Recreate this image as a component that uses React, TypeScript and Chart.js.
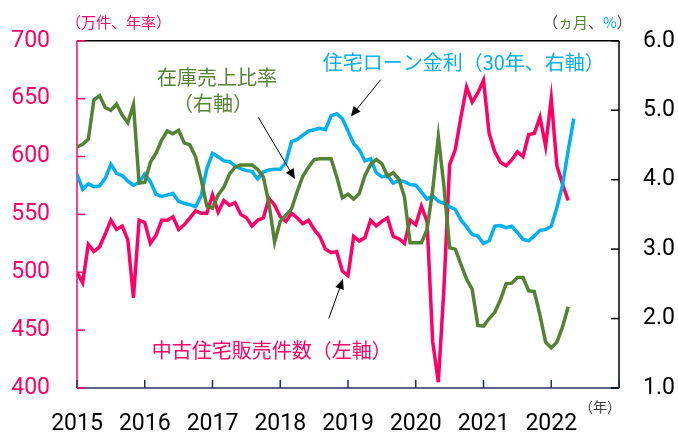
import React, { useEffect, useRef } from 'react';
import { Chart, registerables } from 'chart.js';

Chart.register(...registerables);

const START_YEAR = 2015;
const yearTicks = [0, 12, 24, 36, 48, 60, 72, 84, 96];
const leftTicks = [400, 450, 500, 550, 600, 650, 700];
const rightTicks = [1, 2, 3, 4, 5, 6];

// 中古住宅販売件数 (万件、年率) – left axis, monthly from Jan 2015
const salesValues = [
  500, 491, 524, 518, 522, 533, 545, 537, 540, 528, 478, 545,
  543, 525, 532, 545, 545, 548, 537, 541, 547, 553, 551, 551,
  567, 552, 562, 558, 560, 550, 547, 540, 545, 547, 564, 558,
  548, 544, 551, 547, 542, 545, 537, 531, 520, 517, 518, 501,
  497, 531, 527, 530, 545, 540, 544, 547, 531, 529, 525, 545,
  541, 557, 544, 440, 405, 487, 593, 606, 634, 660, 647, 655,
  666, 620, 604, 595, 592, 597, 604, 600, 619, 620, 634, 609,
  650, 592, 576, 562,
];

// 住宅ローン金利 (30年, %) – right axis
const rateValues = [
  4.08, 3.86, 3.94, 3.90, 3.91, 4.02, 4.22, 4.09, 4.06, 3.98, 3.92, 3.96,
  4.08, 3.97, 3.79, 3.76, 3.78, 3.80, 3.69, 3.66, 3.64, 3.61, 3.77, 4.16,
  4.38, 4.33, 4.27, 4.26, 4.20, 4.16, 4.13, 4.12, 4.01, 4.11, 4.14, 4.15,
  4.15, 4.25, 4.55, 4.58, 4.64, 4.70, 4.72, 4.74, 4.72, 4.92, 4.95, 4.88,
  4.70, 4.52, 4.43, 4.27, 4.30, 4.10, 4.04, 4.06, 3.95, 3.99, 3.97, 3.93,
  3.92, 3.82, 3.72, 3.77, 3.69, 3.66, 3.61, 3.57, 3.42, 3.32, 3.21, 3.19,
  3.08, 3.12, 3.33, 3.34, 3.31, 3.33, 3.24, 3.14, 3.12, 3.19, 3.27, 3.28,
  3.33, 3.60, 3.92, 4.42, 4.88,
];

// 在庫売上比率 (ヵ月) – right axis
const inventoryValues = [
  4.47, 4.51, 4.58, 5.15, 5.21, 5.04, 5.00, 5.09, 4.93, 4.82, 5.08, 3.95,
  3.96, 4.25, 4.38, 4.57, 4.70, 4.66, 4.71, 4.53, 4.50, 4.33, 4.00, 3.62,
  3.59, 3.78, 3.89, 4.08, 4.18, 4.21, 4.21, 4.21, 4.15, 4.04, 3.66, 3.10,
  3.40, 3.49, 3.58, 3.83, 4.05, 4.18, 4.29, 4.30, 4.30, 4.30, 4.04, 3.74,
  3.79, 3.72, 3.80, 4.06, 4.22, 4.29, 4.23, 4.05, 4.10, 4.01, 3.75, 3.09,
  3.09, 3.09, 3.28, 3.85, 4.62, 3.90, 3.02, 3.00, 2.78, 2.57, 2.42, 1.90,
  1.89, 2.00, 2.09, 2.27, 2.50, 2.51, 2.59, 2.59, 2.40, 2.39, 2.05, 1.66,
  1.58, 1.66, 1.88, 2.17,
];

const PINK = '#FF0066';
const BLUE = '#00B0F0';
const GREEN = '#548235';
const NAVY = '#1F2F5F';
const NUM_FONT = 'Roboto, "Liberation Sans", sans-serif';
const JP_FONT = '"Noto Sans CJK JP", "Noto Sans", sans-serif';

const toXY = (arr: number[]) => arr.map((v, i) => ({ x: i, y: v }));

const decorPlugin = {
  id: 'decor',
  beforeDatasetsDraw(chart: any) {
    const { ctx, chartArea: a, scales } = chart;
    const seg = (x1: number, y1: number, x2: number, y2: number, c: string, w = 1.5) => {
      ctx.beginPath();
      ctx.strokeStyle = c;
      ctx.lineWidth = w;
      ctx.moveTo(x1, y1);
      ctx.lineTo(x2, y2);
      ctx.stroke();
    };
    ctx.save();
    seg(a.left, a.top, a.right, a.top, '#000');
    seg(a.right, a.top, a.right, a.bottom, '#000');
    seg(a.left, a.top, a.left, a.bottom, PINK);
    seg(a.left, a.bottom, a.right, a.bottom, NAVY);
    leftTicks.forEach((v) => {
      const y = scales.y.getPixelForValue(v);
      seg(a.left, y, a.left + 8, y, PINK);
    });
    rightTicks.forEach((v) => {
      const y = scales.y1.getPixelForValue(v);
      seg(a.right - 8, y, a.right, y, '#000');
    });
    yearTicks.forEach((v) => {
      const x = scales.x.getPixelForValue(v);
      seg(x, a.bottom, x, a.bottom - 8, NAVY);
    });
    ctx.restore();
  },
  afterDraw(chart: any) {
    const { ctx, chartArea: a, scales } = chart;
    const px = (m: number) => scales.x.getPixelForValue(m);
    const py = (v: number) => scales.y1.getPixelForValue(v);
    ctx.save();
    const text = (t: string, x: number, y: number, c: string, size: number, align: CanvasTextAlign = 'center') => {
      ctx.font = `${size}px ${JP_FONT}`;
      ctx.fillStyle = c;
      ctx.textAlign = align;
      ctx.textBaseline = 'middle';
      ctx.fillText(t, x, y);
    };
    // series labels
    text('住宅ローン金利（30年、右軸）', px(68.5), py(5.69), BLUE, 20);
    text('在庫売上比率', px(24.8), py(5.47), GREEN, 20);
    text('（右軸）', px(24.1), py(5.10), GREEN, 20);
    text('中古住宅販売件数（左軸）', px(34.5), py(1.54), PINK, 20);

    // unit labels
    text('（万件、年率）', a.left - 11, a.top - 19, PINK, 15, 'left');
    const parts: [string, string][] = [
      ['（', '#404040'], ['ヵ月', GREEN], ['、', '#404040'], ['%', BLUE], ['）', '#404040'],
    ];
    let x = a.right - 76;
    ctx.font = `15px ${JP_FONT}`;
    parts.forEach(([t, c]) => {
      text(t, x, a.top - 19, c, 15, 'left');
      x += ctx.measureText(t).width;
    });
    text('（年）', a.right - 19, a.bottom + 19, '#404040', 14);

    // arrows
    const arrow = (m1: number, v1: number, m2: number, v2: number) => {
      const x1 = px(m1), y1 = py(v1), x2 = px(m2), y2 = py(v2);
      const ang = Math.atan2(y2 - y1, x2 - x1);
      const L = 10, W = 4.5;
      ctx.strokeStyle = '#000';
      ctx.fillStyle = '#000';
      ctx.lineWidth = 1;
      ctx.beginPath();
      ctx.moveTo(x1, y1);
      ctx.lineTo(x2 - Math.cos(ang) * L * 0.8, y2 - Math.sin(ang) * L * 0.8);
      ctx.stroke();
      ctx.beginPath();
      ctx.moveTo(x2, y2);
      ctx.lineTo(x2 - Math.cos(ang) * L - Math.sin(ang) * W, y2 - Math.sin(ang) * L + Math.cos(ang) * W);
      ctx.lineTo(x2 - Math.cos(ang) * L + Math.sin(ang) * W, y2 - Math.sin(ang) * L - Math.cos(ang) * W);
      ctx.closePath();
      ctx.fill();
    };
    arrow(53.8, 5.44, 48.5, 4.91);
    arrow(32.1, 4.9, 38.6, 4.01);
    arrow(44.6, 2.0, 47.1, 2.57);
    ctx.restore();
  },
};

export default function App() {
  const ref = useRef<HTMLCanvasElement | null>(null);
  useEffect(() => {
    document.body.style.margin = '0';
    if (!ref.current) return;
    const chart = new Chart(ref.current, {
      type: 'line',
      data: {
        datasets: [
          {
            label: '在庫売上比率',
            data: toXY(inventoryValues),
            yAxisID: 'y1',
            borderColor: GREEN,
            borderWidth: 3.5,
            pointRadius: 0,
            tension: 0,
            order: 0,
          },
          {
            label: '住宅ローン金利',
            data: toXY(rateValues),
            yAxisID: 'y1',
            borderColor: BLUE,
            borderWidth: 3.5,
            pointRadius: 0,
            tension: 0,
            order: 1,
          },
          {
            label: '中古住宅販売件数',
            data: toXY(salesValues),
            yAxisID: 'y',
            borderColor: PINK,
            borderWidth: 3.5,
            pointRadius: 0,
            tension: 0,
            order: 2,
          },
        ],
      },
      options: {
        responsive: false,
        animation: false,
        layout: { padding: { top: 37, left: 0, right: 0, bottom: 0 } },
        plugins: { legend: { display: false }, tooltip: { enabled: false } },
        scales: {
          x: {
            type: 'linear',
            min: 0,
            max: 96,
            grid: { display: false, drawTicks: false },
            border: { display: false },
            afterBuildTicks: (s: any) => {
              s.ticks = yearTicks.map((v) => ({ value: v }));
            },
            ticks: {
              autoSkip: false,
              maxRotation: 0,
              padding: 22,
              color: '#000',
              font: { size: 23, family: NUM_FONT },
              callback: (v: any) => (v < 96 ? String(START_YEAR + v / 12) : ''),
            },
            afterFit: (s: any) => {
              s.height = 47;
            },
          },
          y: {
            position: 'left',
            min: 400,
            max: 700,
            grid: { display: false, drawTicks: false },
            border: { display: false },
            afterBuildTicks: (s: any) => {
              s.ticks = leftTicks.map((v) => ({ value: v }));
            },
            ticks: { padding: 27, color: PINK, font: { size: 23, family: NUM_FONT } },
            afterFit: (s: any) => {
              s.width = 77;
            },
          },
          y1: {
            position: 'right',
            min: 1,
            max: 6,
            grid: { display: false, drawTicks: false },
            border: { display: false },
            afterBuildTicks: (s: any) => {
              s.ticks = rightTicks.map((v) => ({ value: v }));
            },
            ticks: {
              padding: 24,
              color: '#000',
              font: { size: 23, family: NUM_FONT },
              callback: (v: any) => Number(v).toFixed(1),
            },
            afterFit: (s: any) => {
              s.width = 59;
            },
          },
        },
      },
      plugins: [decorPlugin],
    } as any);
    return () => chart.destroy();
  }, []);
  return (
    <div style={{ position: 'absolute', left: 0, top: 0, width: 678, height: 435 }}>
      <canvas ref={ref} width={678} height={435} style={{ width: 678, height: 435 }} />
    </div>
  );
}
